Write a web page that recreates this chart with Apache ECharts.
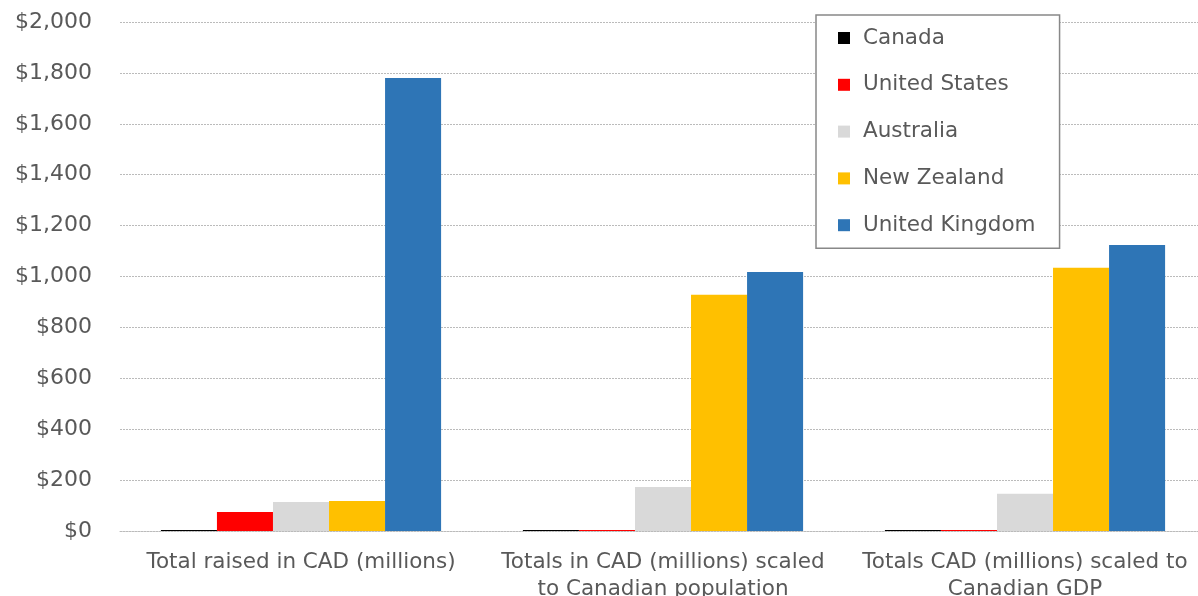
<!DOCTYPE html>
<html><head><meta charset="utf-8">
<script src="https://cdn.jsdelivr.net/npm/echarts@6/dist/echarts.min.js"></script>
<style>html,body{margin:0;padding:0;background:#fff}#c{width:1198px;height:596px}</style>
</head><body><div id="c"></div>
<script>
const categories = ["Total raised in CAD (millions)", "Totals in CAD (millions) scaled\nto Canadian population", "Totals CAD (millions) scaled to\nCanadian GDP"];
const seriesNames = ["Canada", "United States", "Australia", "New Zealand", "United Kingdom"];
const canada = [4, 4, 4];
const unitedStates = [75, 4, 4];
const australia = [114, 173, 146];
const newZealand = [118, 928, 1034];
const unitedKingdom = [1780, 1018, 1124];
const yTicks = [0, 200, 400, 600, 800, 1000, 1200, 1400, 1600, 1800, 2000];
const colors = ["#000000", "#FF0000", "#D9D9D9", "#FFC000", "#2E75B6"];
const values = [canada, unitedStates, australia, newZealand, unitedKingdom];
const font = "DejaVu Sans";
const chart = echarts.init(document.getElementById('c'));
chart.setOption({
  animation: false,
  textStyle: {fontFamily: font},
  grid: {left: 120, right: -8, top: 22, bottom: 65, containLabel: false, outerBoundsMode: 'none'},
  legend: {
    orient: 'vertical', left: 816, top: 15,
    padding: [12, 24, 12, 22], itemGap: 24.8, itemWidth: 12, itemHeight: 12,
    backgroundColor: '#fff', borderColor: '#888', borderWidth: 1.5,
    icon: 'rect',
    textStyle: {fontSize: 21.5, color: '#595959', fontFamily: font, padding: [0, 0, 0, 8]},
    data: seriesNames
  },
  xAxis: {
    type: 'category', data: categories,
    axisLine: {show: true, lineStyle: {color: '#BBBBBB', type: [2, 1], width: 1}},
    axisTick: {show: false},
    axisLabel: {fontSize: 21.5, color: '#595959', margin: 18, lineHeight: 27, interval: 0}
  },
  yAxis: {
    type: 'value', min: 0, max: 2000, interval: 200,
    axisLine: {show: false}, axisTick: {show: false},
    splitLine: {lineStyle: {color: '#BBBBBB', type: [2, 1], width: 1}},
    axisLabel: {fontSize: 22, color: '#595959', margin: 28,
      formatter: v => yTicks.includes(v) ? '$' + v.toLocaleString('en-US') : ''}
  },
  series: seriesNames.map((n, i) => ({
    name: n, type: 'bar', data: values[i],
    barGap: '0%', barCategoryGap: '22.6%',
    itemStyle: {color: colors[i]}
  }))
});
</script></body></html>
